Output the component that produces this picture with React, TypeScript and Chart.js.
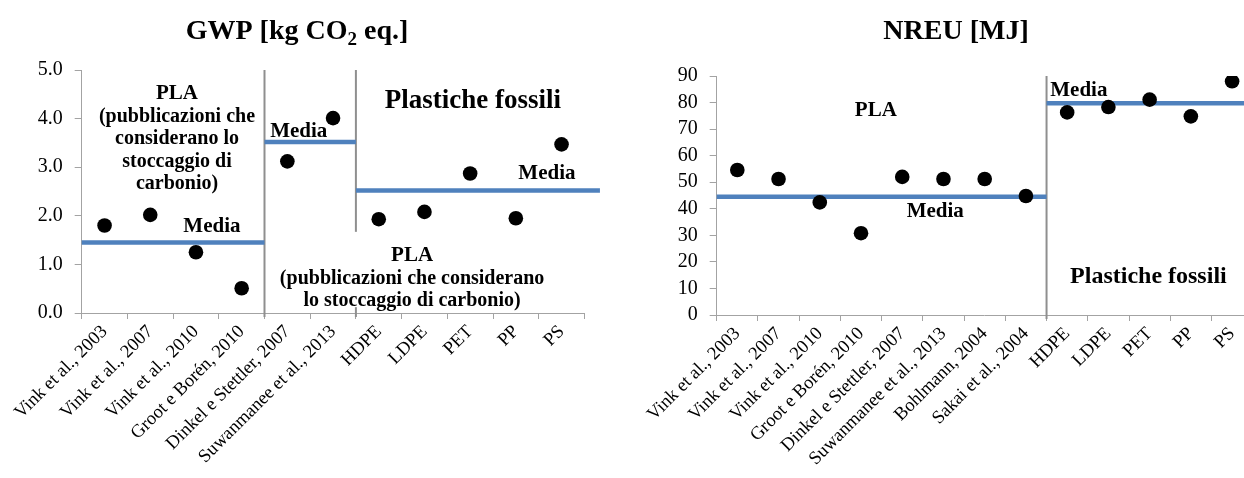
import React, { useEffect, useRef } from 'react';
import { Chart, registerables } from 'chart.js';

Chart.register(...registerables);

// ---------- DATA ----------
const gwpLabels = [
  'Vink et al., 2003',
  'Vink et al., 2007',
  'Vink et al., 2010',
  'Groot e Borén, 2010',
  'Dinkel e Stettler, 2007',
  'Suwanmanee et al., 2013',
  'HDPE',
  'LDPE',
  'PET',
  'PP',
  'PS',
];
const gwpValues = [1.8, 2.02, 1.25, 0.51, 3.12, 4.01, 1.93, 2.08, 2.87, 1.95, 3.47];
const gwpGroups = [[0, 3], [4, 5], [6, 10]];
const gwpMeans = [1.45, 3.52, 2.52];
const gwpMeanOverhang = [0, 0, 0.34];
const gwpYTicks = { min: 0, max: 5, step: 1, decimals: 1 };

const nreuLabels = [
  'Vink et al., 2003',
  'Vink et al., 2007',
  'Vink et al., 2010',
  'Groot e Borén, 2010',
  'Dinkel e Stettler, 2007',
  'Suwanmanee et al., 2013',
  'Bohlmann, 2004',
  'Sakai et al., 2004',
  'HDPE',
  'LDPE',
  'PET',
  'PP',
  'PS',
];
const nreuValues = [54.6, 51.2, 42.4, 30.8, 52.0, 51.2, 51.2, 44.8, 76.3, 78.3, 81.1, 74.8, 88.0];
const nreuGroups = [[0, 7], [8, 12]];
const nreuMeans = [44.5, 79.7];
const nreuMeanOverhang = [0, 0.5];
const nreuYTicks = { min: 0, max: 90, step: 10, decimals: 0 };

// ---------- STYLE ----------
const FONT = "'Liberation Serif', 'DejaVu Serif', serif";
const AXIS_COLOR = '#a3a3a3';
const SEP_COLOR = '#8f8f8f';
const MEAN_COLOR = '#4f81bd';
const TEXT = '#000000';

type Note = { lines: string[]; x: number; y: number; size: number; align?: CanvasTextAlign; gap?: number };
type Seg = { t: string; s: number; dy?: number };

type Spec = {
  labels: string[];
  values: number[];
  groups: number[][];
  means: number[];
  overhang: number[];
  yTicks: { min: number; max: number; step: number; decimals: number };
  width: number;
  height: number;
  padTop: number;
  padRight: number;
  yAxisWidth: number;
  xAxisHeight: number;
  title: Seg[];
  titleX: number;
  titleY: number;
  notes: Note[];
  whiteBox?: { x0: number; x1: number; y0: number; y1: number };
};

const gwpSpec: Spec = {
  labels: gwpLabels,
  values: gwpValues,
  groups: gwpGroups,
  means: gwpMeans,
  overhang: gwpMeanOverhang,
  yTicks: gwpYTicks,
  width: 620,
  height: 478,
  padTop: 70,
  padRight: 35.6,
  yAxisWidth: 81.7,
  xAxisHeight: 165,
  title: [
    { t: 'GWP [kg CO', s: 28 },
    { t: '2', s: 19, dy: 6 },
    { t: ' eq.]', s: 28 },
  ],
  titleX: 297,
  titleY: 39,
  notes: [
    { lines: ['PLA'], x: 1.585, y: 4.4, size: 21 },
    { lines: ['(pubblicazioni che', 'considerano lo', 'stoccaggio di', 'carbonio)'], x: 1.585, y: 3.93, size: 20, gap: 22.3 },
    { lines: ['Media'], x: 2.35, y: 1.66, size: 21 },
    { lines: ['Media'], x: 4.25, y: 3.63, size: 21 },
    { lines: ['Plastiche fossili'], x: 8.06, y: 4.21, size: 27 },
    { lines: ['Media'], x: 9.68, y: 2.76, size: 21 },
    { lines: ['PLA'], x: 6.73, y: 1.07, size: 21 },
    { lines: ['(pubblicazioni che considerano', 'lo stoccaggio di carbonio)'], x: 6.73, y: 0.6, size: 20, gap: 22 },
  ],
  whiteBox: { x0: 3.58, x1: 9.88, y0: 0.12, y1: 1.67 },
};

const nreuSpec: Spec = {
  labels: nreuLabels,
  values: nreuValues,
  groups: nreuGroups,
  means: nreuMeans,
  overhang: nreuMeanOverhang,
  yTicks: nreuYTicks,
  width: 640,
  height: 478,
  padTop: 76,
  padRight: 6.4,
  yAxisWidth: 96.7,
  xAxisHeight: 163,
  title: [{ t: 'NREU [MJ]', s: 28 }],
  titleX: 336,
  titleY: 39,
  notes: [
    { lines: ['PLA'], x: 3.36, y: 75.0, size: 21 },
    { lines: ['Media'], x: 4.8, y: 36.8, size: 21 },
    { lines: ['Media'], x: 7.59, y: 82.6, size: 21, align: 'left' },
    { lines: ['Plastiche fossili'], x: 9.97, y: 11.9, size: 24 },
  ],
};

function makeChart(canvas: HTMLCanvasElement, spec: Spec) {
  const n = spec.labels.length;
  const annotate = {
    id: 'annotate',
    beforeDatasetsDraw(chart: any) {
      const ctx = chart.ctx as CanvasRenderingContext2D;
      const xl = chart.scales.xl;
      const y = chart.scales.y;
      const area = chart.chartArea;
      ctx.save();
      // group separators
      ctx.strokeStyle = SEP_COLOR;
      ctx.lineWidth = 2;
      for (let i = 0; i < spec.groups.length - 1; i++) {
        const px = xl.getPixelForValue(spec.groups[i][1] + 0.5);
        ctx.beginPath();
        ctx.moveTo(px, area.top);
        ctx.lineTo(px, area.bottom + 4);
        ctx.stroke();
      }
      if (spec.whiteBox) {
        const b = spec.whiteBox;
        const x0 = xl.getPixelForValue(b.x0);
        const x1 = xl.getPixelForValue(b.x1);
        const y0 = y.getPixelForValue(b.y1);
        const y1 = y.getPixelForValue(b.y0);
        ctx.fillStyle = '#ffffff';
        ctx.fillRect(x0, y0, x1 - x0, y1 - y0);
      }
      ctx.fillStyle = TEXT;
      ctx.textBaseline = 'alphabetic';
      for (const note of spec.notes) {
        ctx.font = `bold ${note.size}px ${FONT}`;
        ctx.textAlign = note.align || 'center';
        const px = xl.getPixelForValue(note.x);
        const py = y.getPixelForValue(note.y);
        note.lines.forEach((line, i) => {
          ctx.fillText(line, px, py + i * (note.gap || 22));
        });
      }
      ctx.restore();
    },
    afterDraw(chart: any) {
      const ctx = chart.ctx as CanvasRenderingContext2D;
      ctx.save();
      ctx.fillStyle = TEXT;
      ctx.textBaseline = 'alphabetic';
      ctx.textAlign = 'left';
      let total = 0;
      const widths = spec.title.map((seg) => {
        ctx.font = `bold ${seg.s}px ${FONT}`;
        const w = ctx.measureText(seg.t).width;
        total += w;
        return w;
      });
      let x = spec.titleX - total / 2;
      spec.title.forEach((seg, i) => {
        ctx.font = `bold ${seg.s}px ${FONT}`;
        ctx.fillText(seg.t, x, spec.titleY + (seg.dy || 0));
        x += widths[i];
      });
      ctx.restore();
    },
  };

  const datasets: any[] = [
    {
      type: 'line',
      label: 'Valori',
      data: spec.values,
      xAxisID: 'x',
      yAxisID: 'y',
      showLine: false,
      pointRadius: 7.3,
      pointHoverRadius: 7.3,
      pointBackgroundColor: '#000000',
      pointBorderColor: '#000000',
      pointBorderWidth: 0,
      order: 0,
    },
    ...spec.means.map((m, i) => ({
      type: 'line',
      label: 'Media',
      data: [
        { x: spec.groups[i][0] - 0.5, y: m },
        { x: spec.groups[i][1] + 0.5 + spec.overhang[i], y: m },
      ],
      xAxisID: 'xl',
      yAxisID: 'y',
      borderColor: MEAN_COLOR,
      borderWidth: 4.5,
      pointRadius: 0,
      clip: false,
      order: 1,
    })),
  ];

  return new Chart(canvas, {
    type: 'line',
    data: { labels: spec.labels, datasets },
    options: {
      responsive: false,
      animation: false,
      events: [],
      layout: { padding: { top: spec.padTop, right: spec.padRight, left: 0, bottom: 0 } },
      plugins: {
        legend: { display: false },
        tooltip: { enabled: false },
        title: { display: false },
      },
      scales: {
        x: {
          type: 'category',
          offset: true,
          grid: {
            display: true,
            drawOnChartArea: false,
            drawTicks: true,
            tickLength: 6,
            offset: true,
            color: AXIS_COLOR,
            lineWidth: 1,
          },
          border: { display: true, color: AXIS_COLOR, width: 1 },
          ticks: {
            autoSkip: false,
            minRotation: 45,
            maxRotation: 45,
            color: TEXT,
            padding: 2,
            font: { family: FONT, size: 18.5 },
          },
          afterFit: (s: any) => {
            s.height = spec.xAxisHeight;
          },
        },
        xl: {
          type: 'linear',
          axis: 'x',
          display: false,
          min: -0.5,
          max: n - 0.5,
        },
        y: {
          type: 'linear',
          min: spec.yTicks.min,
          max: spec.yTicks.max,
          grid: {
            display: true,
            drawOnChartArea: false,
            drawTicks: true,
            tickLength: 7,
            color: AXIS_COLOR,
            lineWidth: 1,
          },
          border: { display: true, color: AXIS_COLOR, width: 1 },
          ticks: {
            stepSize: spec.yTicks.step,
            autoSkip: false,
            maxTicksLimit: 50,
            color: TEXT,
            padding: 12,
            font: { family: FONT, size: 20 },
            callback: (v: any) => Number(v).toFixed(spec.yTicks.decimals),
          },
          afterFit: (s: any) => {
            s.width = spec.yAxisWidth;
          },
        },
      },
    } as any,
    plugins: [annotate],
  });
}

function ChartCanvas({ spec, left }: { spec: Spec; left: number }) {
  const ref = useRef<HTMLCanvasElement | null>(null);
  useEffect(() => {
    if (!ref.current) return;
    const chart = makeChart(ref.current, spec);
    let alive = true;
    if ((document as any).fonts && (document as any).fonts.ready) {
      (document as any).fonts.ready.then(() => {
        if (alive) chart.update();
      });
    }
    return () => {
      alive = false;
      chart.destroy();
    };
  }, [spec]);
  return (
    <canvas
      ref={ref}
      width={spec.width}
      height={spec.height}
      style={{ position: 'absolute', left, top: 0, width: spec.width, height: spec.height }}
    />
  );
}

export default function App() {
  return (
    <div
      style={{
        position: 'fixed',
        left: 0,
        top: 0,
        width: 1244,
        height: 478,
        overflow: 'hidden',
        background: '#ffffff',
      }}
    >
      <ChartCanvas spec={gwpSpec} left={0} />
      <ChartCanvas spec={nreuSpec} left={620} />
    </div>
  );
}
